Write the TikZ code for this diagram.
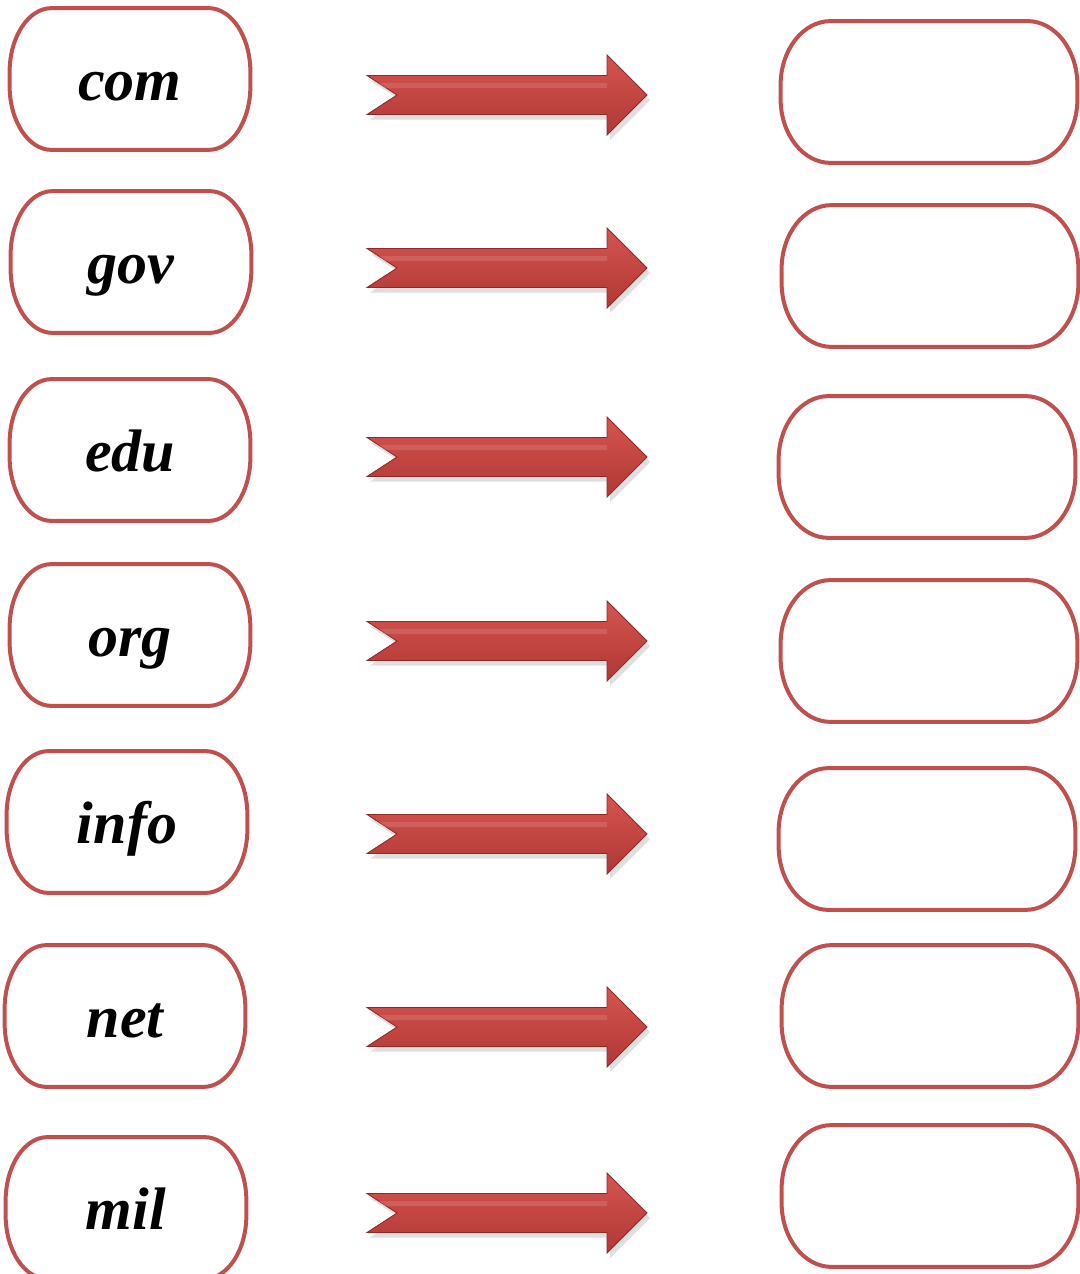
\documentclass[tikz,border=0pt]{standalone}
\usepackage{fontspec}
\setmainfont{Liberation Serif}
\usetikzlibrary{shadows}

\definecolor{boxred}{RGB}{192,80,77}
\definecolor{arrowtop}{RGB}{214,84,80}
\definecolor{arrowmid}{RGB}{224,98,94}
\definecolor{arrowbot}{RGB}{176,56,53}
\definecolor{arrowedge}{RGB}{140,42,40}

% outline with elliptic corners round a named node
\newcommand{\pillpath}[3]{%
  \draw[pill] ([xshift=#2]#1.north west) -- ([xshift=-#2]#1.north east)
    arc[start angle=90, end angle=0, x radius=#2, y radius=#3]
    -- ([yshift=#3]#1.south east)
    arc[start angle=0, end angle=-90, x radius=#2, y radius=#3]
    -- ([xshift=#2]#1.south west)
    arc[start angle=270, end angle=180, x radius=#2, y radius=#3]
    -- ([yshift=-#3]#1.north west)
    arc[start angle=180, end angle=90, x radius=#2, y radius=#3] -- cycle;}

\begin{document}
\begin{tikzpicture}[x=0.5pt, y=-0.5pt,
    tag/.style={rectangle, minimum width=120pt, minimum height=70.5pt, inner sep=0pt,
      text height=24pt, text depth=3pt,
      font=\fontsize{30}{30}\selectfont\bfseries\itshape},
    blank/.style={rectangle, minimum width=148pt, minimum height=70.5pt, inner sep=0pt},
    pill/.style={draw=boxred, line width=2pt},
    pics/fatarrow/.style={code={
      \fill[top color=arrowtop, middle color=arrowmid, bottom color=arrowbot,
        draw=arrowedge, line width=0.4pt,
        drop shadow={shadow xshift=1.5pt, shadow yshift=-2.5pt, opacity=0.25}]
        (-140,-19.5) -- (100,-19.5) -- (100,-40) -- (140,0) -- (100,40)
        -- (100,19.5) -- (-140,19.5) -- (-110,0) -- cycle;
      \fill[white, opacity=0.12] (-128,-12) -- (100,-12) -- (100,-7) -- (-123,-7) -- cycle;
    }}
]
    \useasboundingbox (0,0) rectangle (1080,1274);

    \foreach \txt/\xl/\yl/\ya/\xr/\yr in {
        com/130/79/95/929/92,
        gov/131/262/268/930/276,
        edu/130/450/457/927/467,
        org/130/635/641/929/651,
        info/127/822/834/927/839,
        net/125/1016/1027/930/1016,
        mil/126/1208/1213/930/1196}{
      \node[tag] (\txt) at (\xl,\yl) {\txt};
      \pillpath{\txt}{21pt}{32pt}
      \node[blank] (\txt-box) at (\xr,\yr) {};
      \pillpath{\txt-box}{25pt}{32pt}
      \pic at (507,\ya) {fatarrow};
    }
\end{tikzpicture}
\end{document}
